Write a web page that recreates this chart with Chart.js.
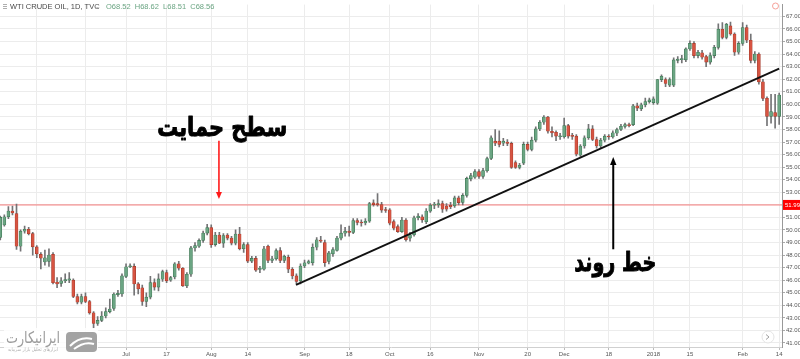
<!DOCTYPE html>
<html><head><meta charset="utf-8">
<script src="https://cdn.jsdelivr.net/npm/chart.js@4.4.1/dist/chart.umd.min.js"></script>
<style>html,body{margin:0;padding:0;background:#fff;}canvas{display:block;}</style>
</head><body>
<canvas id="c" width="800" height="359"></canvas>
<script>
// ---- data (WTI crude oil, daily candles) ----
const open = [49.4,50.4,51.05,51.5,51.3,48.7,49.9,50.05,49.7,48.65,
48.05,47.45,47.5,48.05,45.85,45.75,45.95,46.0,46.0,44.7,
44.25,44.7,44.3,43.4,42.55,42.8,43.15,43.5,43.75,44.85,
44.9,46.3,47.07,47.1,45.7,45.4,44.3,44.65,45.8,45.45,
46.08,46.6,46.0,46.26,47.3,46.95,45.55,46.47,48.57,48.7,
49.17,49.75,50.19,48.83,49.6,48.95,49.6,49.35,48.95,49.67,
48.5,48.83,47.52,47.73,46.85,46.87,48.7,47.57,47.7,48.35,
47.57,47.83,46.87,46.34,45.95,47.13,47.35,47.39,48.62,49.2,
49.0,47.5,48.1,48.36,49.35,49.74,49.9,49.8,50.75,50.6,
50.55,50.7,52.15,52.1,52.02,51.62,51.6,50.66,50.27,49.87,
50.79,49.35,49.61,50.97,51.05,50.66,51.5,51.97,52.0,52.1,
51.9,51.95,51.92,52.55,52.2,52.75,54.07,54.2,54.64,54.27,
54.72,55.69,57.07,57.07,56.9,57.0,56.89,55.37,54.98,55.32,
56.81,56.42,57.15,58.04,58.57,58.99,57.86,57.78,57.42,57.42,
58.3,57.5,57.47,55.95,56.68,57.34,58.04,57.2,56.68,57.15,
57.47,57.4,57.7,58.0,58.25,58.38,58.39,59.88,59.64,59.96,
60.22,60.14,60.09,61.97,61.97,61.53,61.53,63.5,63.55,63.54,
64.41,64.85,63.88,64.1,63.8,63.36,63.88,64.54,65.98,65.33,
66.24,65.6,64.15,64.85,66.11,65.1,63.49,64.0,61.79,60.48,
59.04,59.35,59.04];
const high = [51.1,51.2,51.85,51.9,52.05,50.0,50.3,50.2,49.8,48.75,
48.2,48.4,48.5,48.2,46.2,46.2,46.5,46.6,46.1,44.9,
44.9,45.0,44.4,43.5,43.1,43.5,43.8,44.5,45.0,45.2,
46.5,47.3,47.3,47.3,45.8,45.6,45.0,46.3,46.1,46.5,
46.8,46.8,46.3,47.4,47.5,47.0,46.6,48.7,49.0,49.3,
49.9,50.45,50.4,49.8,49.8,49.7,49.7,49.5,50.0,50.2,
49.0,49.0,47.9,47.9,47.1,48.7,48.8,47.9,48.5,48.6,
48.0,48.0,47.0,46.5,47.3,47.6,47.6,48.9,49.4,49.5,
49.2,48.3,48.6,49.5,50.4,50.2,50.3,50.9,50.9,50.8,
50.9,52.2,52.4,52.9,52.2,51.8,51.7,50.8,50.4,51.0,
50.9,49.8,51.1,51.3,51.2,51.7,52.1,52.2,52.4,52.3,
52.1,52.2,52.7,52.7,52.9,54.2,54.5,54.8,54.8,54.9,
55.8,57.5,57.99,57.9,57.3,57.2,57.0,55.5,55.3,57.0,
57.0,57.4,58.2,58.7,59.1,59.05,58.2,57.9,57.7,58.9,
58.4,57.7,57.6,56.8,57.5,58.4,58.3,57.4,57.3,57.6,
57.6,57.9,58.1,58.4,58.5,58.5,60.0,60.1,60.1,60.5,
60.5,60.6,62.0,62.35,62.1,62.1,63.7,63.8,63.9,64.5,
65.06,65.0,64.3,64.3,63.9,64.1,64.7,66.4,66.5,66.45,
66.55,65.7,65.0,66.5,66.3,65.6,64.2,64.1,62.0,60.6,
60.8,60.8,60.9];
const low = [49.2,50.3,50.9,51.2,48.45,48.3,49.75,49.6,48.0,47.8,
46.9,47.2,47.1,45.7,45.4,45.5,45.8,45.8,44.6,44.1,
44.1,44.2,43.3,42.2,42.4,42.7,43.0,43.4,43.6,44.7,
44.7,46.2,47.0,44.8,44.9,44.0,43.9,44.5,45.2,45.15,
45.9,45.8,45.9,46.1,46.8,45.5,45.4,46.3,48.3,48.6,
49.0,49.6,48.6,48.7,48.9,48.6,49.2,48.8,48.8,48.4,
48.2,47.4,47.4,46.7,46.6,46.8,47.4,47.4,47.6,47.4,
47.4,46.6,46.1,45.7,45.7,47.0,47.3,47.2,48.4,49.0,
47.1,47.3,47.9,48.3,49.2,49.5,49.5,49.7,50.4,50.3,
50.4,50.6,51.9,51.9,51.4,51.4,50.4,50.0,49.8,49.8,
49.1,49.1,49.5,50.8,50.6,50.5,51.4,51.7,51.8,51.4,
51.5,51.7,51.8,52.0,52.0,52.6,53.9,54.1,54.1,54.1,
54.6,55.6,56.7,56.6,56.7,56.7,54.9,54.9,54.85,55.2,
56.3,56.3,57.0,57.9,58.4,57.7,57.4,57.1,57.2,57.3,
57.3,57.2,55.9,55.85,56.5,57.2,57.1,56.5,56.5,57.0,
57.2,57.3,57.5,57.9,58.1,58.2,58.3,59.5,59.5,59.8,
60.1,60.0,60.0,61.8,61.4,61.4,61.4,63.3,63.3,63.4,
64.3,63.7,63.7,63.6,63.0,63.2,63.7,64.4,65.2,65.2,
65.5,63.9,64.0,64.7,64.9,63.3,63.3,61.6,60.3,58.3,
58.5,58.1,58.4];
const close = [51.0,51.05,51.5,51.35,48.7,49.9,50.05,49.7,48.65,48.1,
47.75,47.78,48.0,45.8,45.7,45.95,46.05,46.1,44.7,44.25,
44.7,44.3,43.4,42.55,42.8,43.15,43.5,43.7,44.9,44.95,
46.35,47.07,47.12,45.7,45.3,44.3,44.65,45.8,45.45,46.1,
46.68,45.95,46.2,47.3,46.95,45.55,46.47,48.57,48.75,49.17,
49.75,50.19,48.83,49.6,48.95,49.55,49.35,48.95,49.67,48.5,
48.83,47.52,47.73,46.79,46.95,48.5,47.57,47.7,48.35,47.57,
47.9,46.87,46.34,45.9,47.13,47.39,47.48,48.62,49.22,49.1,
47.4,48.17,48.44,49.35,49.74,49.9,49.8,50.75,50.6,50.55,
50.7,52.1,52.02,52.0,51.58,51.55,50.53,50.14,49.87,50.79,
49.22,49.61,50.97,51.1,50.8,51.5,51.97,52.02,52.1,51.65,
51.65,51.85,52.55,52.18,52.75,54.1,54.33,54.64,54.27,54.72,
55.69,57.34,56.9,56.8,57.07,56.89,54.98,54.98,55.15,56.81,
56.42,57.15,58.04,58.57,58.99,57.86,57.73,57.47,57.5,58.3,
57.47,57.45,56.03,56.68,57.34,58.04,57.2,56.68,57.15,57.47,
57.4,57.73,57.99,58.25,58.38,58.3,59.88,59.7,59.96,60.22,
60.35,60.43,61.97,62.23,61.66,61.97,63.54,63.6,63.65,64.41,
64.85,63.88,64.14,63.75,63.36,63.88,64.54,65.98,65.33,66.37,
65.6,64.15,64.85,66.11,65.1,63.49,64.0,61.79,60.48,59.04,
59.43,59.04,60.74];

// x-axis ticks (candle index -> label); first two sit under the watermark
const tickPos  = [9, 21, 31, 41, 52, 61, 75, 86, 96, 106, 118, 130, 139, 150, 161, 170, 183, 192];
const tickText = ['', '', 'Jul','17','Aug','14','Sep','18','Oct','16','Nov','20','Dec','18','2018','15','Feb','14'];
const priceTicks = [41,42,43,44,45,46,47,48,49,50,51,52,53,54,55,56,57,58,59,60,61,62,63,64,65,66,67];

const supportLevel = 51.99;
const trendLine = [{x:72.9, y:45.63}, {x:192, y:62.84}];
const headerTitle = 'WTI CRUDE OIL, 1D, TVC';
const headerOHLC = 'O68.52  H68.62  L68.51  C68.56';

// ---- style ----
const X_MIN = -0.07, X_MAX = 192.7;
const UP = '#6ba583', DOWN = '#d75442', UP_B = '#3d7552', DOWN_B = '#a23a2b', WICK = '#737375';

const bodyData = open.map((o, i) => ({x: i, y: [o, close[i]]}));
const wickData = open.map((o, i) => ({x: i, y: [low[i], high[i]]}));
const isUp = open.map((o, i) => close[i] >= o);

function arrow(ctx, x, y0, y1, color, lw, hw, hl) {
  const dir = y1 > y0 ? 1 : -1;
  ctx.save();
  ctx.strokeStyle = color; ctx.fillStyle = color; ctx.lineWidth = lw;
  ctx.beginPath(); ctx.moveTo(x, y0); ctx.lineTo(x, y1 - dir * hl * 0.8); ctx.stroke();
  ctx.beginPath(); ctx.moveTo(x, y1); ctx.lineTo(x - hw, y1 - dir * hl); ctx.lineTo(x + hw, y1 - dir * hl); ctx.closePath(); ctx.fill();
  ctx.restore();
}

// draw real text centred at (cx, cy), squeezed horizontally to a target width
function fitText(ctx, text, cx, cy, font, width, stroke) {
  ctx.save();
  ctx.font = font;
  ctx.textAlign = 'left'; ctx.textBaseline = 'middle'; ctx.direction = 'ltr';
  const w = ctx.measureText(text).width;
  const k = width / w;
  ctx.translate(cx - width / 2, cy);
  ctx.scale(k, 1);
  if (stroke) { ctx.strokeStyle = ctx.fillStyle; ctx.lineWidth = stroke; ctx.lineJoin = 'round'; ctx.strokeText(text, 0, 0); }
  ctx.fillText(text, 0, 0);
  ctx.restore();
}

const overlay = {
  id: 'overlay',
  afterDatasetsDraw(chart) {
    const {ctx, scales: {x, y}} = chart;
    arrow(ctx, x.getPixelForValue(53.9), y.getPixelForValue(57.1), y.getPixelForValue(52.47), '#ff1a1a', 1.6, 3, 7);
    arrow(ctx, x.getPixelForValue(151.1), y.getPixelForValue(48.46), y.getPixelForValue(55.8), '#000', 2, 3.2, 8);
    ctx.fillStyle = '#000';
    fitText(ctx, 'سطح حمایت', x.getPixelForValue(54.7), y.getPixelForValue(57.98), 'bold 26px "DejaVu Sans"', 130, 1);
    fitText(ctx, 'خط روند', x.getPixelForValue(151.6), y.getPixelForValue(47.3), 'bold 26px "DejaVu Sans"', 82, 1);
  },
  afterDraw(chart) {
    const {ctx, chartArea, scales: {y}} = chart;
    ctx.save();
    // header
    ctx.textBaseline = 'middle'; ctx.textAlign = 'left';
    ctx.fillStyle = '#9a9a9a';
    ctx.fillRect(3, 4, 4, 0.8); ctx.fillRect(3, 6, 4, 0.8); ctx.fillRect(3, 8, 4, 0.8);
    ctx.font = '7.5px "Liberation Sans"';
    ctx.fillStyle = '#4a4a4a';
    ctx.fillText(headerTitle, 10, 6.5);
    ctx.fillStyle = '#9a9a9a';
    ctx.fillText('-', 96, 6.5);
    ctx.fillStyle = '#6ba583';
    ctx.fillText(headerOHLC, 106, 6.5);
    // price label for support level
    const py = y.getPixelForValue(supportLevel);
    ctx.fillStyle = '#ff0000';
    ctx.fillRect(chartArea.right + 1, py - 5, 17, 10);
    ctx.fillStyle = '#fff';
    ctx.font = '6px "Liberation Sans"';
    ctx.fillText(supportLevel.toFixed(2), chartArea.right + 3, py + 0.5);
    // top-right icon
    ctx.strokeStyle = '#f28b82'; ctx.lineWidth = 0.8;
    ctx.beginPath(); ctx.arc(775.5, 6, 3, 0, Math.PI * 2); ctx.stroke();
    // bottom-right scroll button
    ctx.fillStyle = '#fff'; ctx.strokeStyle = '#e3e3e3'; ctx.lineWidth = 1;
    ctx.beginPath(); ctx.arc(768, 337, 6, 0, Math.PI * 2); ctx.fill(); ctx.stroke();
    ctx.strokeStyle = '#888'; ctx.lineWidth = 0.8;
    ctx.beginPath(); ctx.moveTo(766, 334.5); ctx.lineTo(769, 337); ctx.lineTo(766, 339.5); ctx.stroke();
    // watermark
    ctx.fillStyle = 'rgba(255,255,255,0.85)';
    ctx.fillRect(4, 328, 94, 27);
    ctx.fillStyle = '#a3a3a3';
    ctx.beginPath();
    if (ctx.roundRect) ctx.roundRect(66, 332, 31, 20, 4); else ctx.rect(66, 332, 31, 20);
    ctx.fill();
    ctx.strokeStyle = '#fff'; ctx.lineWidth = 2;
    ctx.beginPath(); ctx.moveTo(70, 346); ctx.quadraticCurveTo(80, 336, 92, 339); ctx.stroke();
    ctx.beginPath(); ctx.moveTo(74, 349); ctx.quadraticCurveTo(84, 341, 94, 344); ctx.stroke();
    ctx.restore();
    ctx.fillStyle = '#9d9d9d';
    fitText(ctx, 'ایرانیکارت', 33, 339, '16px "DejaVu Sans"', 54);
    ctx.fillStyle = '#b0b0b0';
    fitText(ctx, 'ابزارهای تحلیل بازار سرمایه', 33, 350, '5px "DejaVu Sans"', 50);
  }
};

new Chart(document.getElementById('c'), {
  type: 'bar',
  data: {
    datasets: [
      {
        type: 'line', data: [{x: X_MIN, y: supportLevel}, {x: X_MAX, y: supportLevel}],
        borderColor: '#f47a7a', borderWidth: 1, pointRadius: 0, order: 4
      },
      {
        data: wickData, backgroundColor: WICK, barThickness: 1, grouped: false, order: 3
      },
      {
        data: bodyData, grouped: false, order: 2, barThickness: 3, minBarLength: 1,
        backgroundColor: isUp.map(u => u ? UP : DOWN),
        borderColor: isUp.map(u => u ? UP_B : DOWN_B),
        borderWidth: 0.6, borderSkipped: false
      },
      {
        type: 'line', data: trendLine, borderColor: '#111', borderWidth: 1.9,
        pointRadius: 0, order: 1
      }
    ]
  },
  options: {
    responsive: false, animation: false, devicePixelRatio: 1,
    layout: {padding: 0},
    plugins: {legend: {display: false}, tooltip: {enabled: false}},
    scales: {
      x: {
        type: 'linear', min: X_MIN, max: X_MAX, offset: false,
        afterFit: s => { s.height = 12; },
        afterBuildTicks: s => { s.ticks = tickPos.map(v => ({value: v})); },
        ticks: {
          callback: (v, i) => tickText[i], autoSkip: false, maxRotation: 0,
          font: {size: 6, family: 'Liberation Sans'}, color: '#555', padding: 1
        },
        grid: {color: '#ececec', offset: false, tickLength: 3, tickColor: '#bbb'},
        border: {display: true, color: '#d0d0d0'}
      },
      y: {
        type: 'linear', position: 'right', min: 40.68, max: 67.94,
        afterFit: s => { s.width = 18; },
        afterBuildTicks: s => { s.ticks = priceTicks.map(v => ({value: v})); },
        ticks: {
          callback: v => Number(v).toFixed(2), autoSkip: false,
          font: {size: 6, family: 'Liberation Sans'}, color: '#555', padding: 1
        },
        grid: {color: '#ececec', tickLength: 3, tickColor: '#aaa'},
        border: {display: true, color: '#999'}
      }
    }
  },
  plugins: [overlay]
});
</script>
</body></html>
